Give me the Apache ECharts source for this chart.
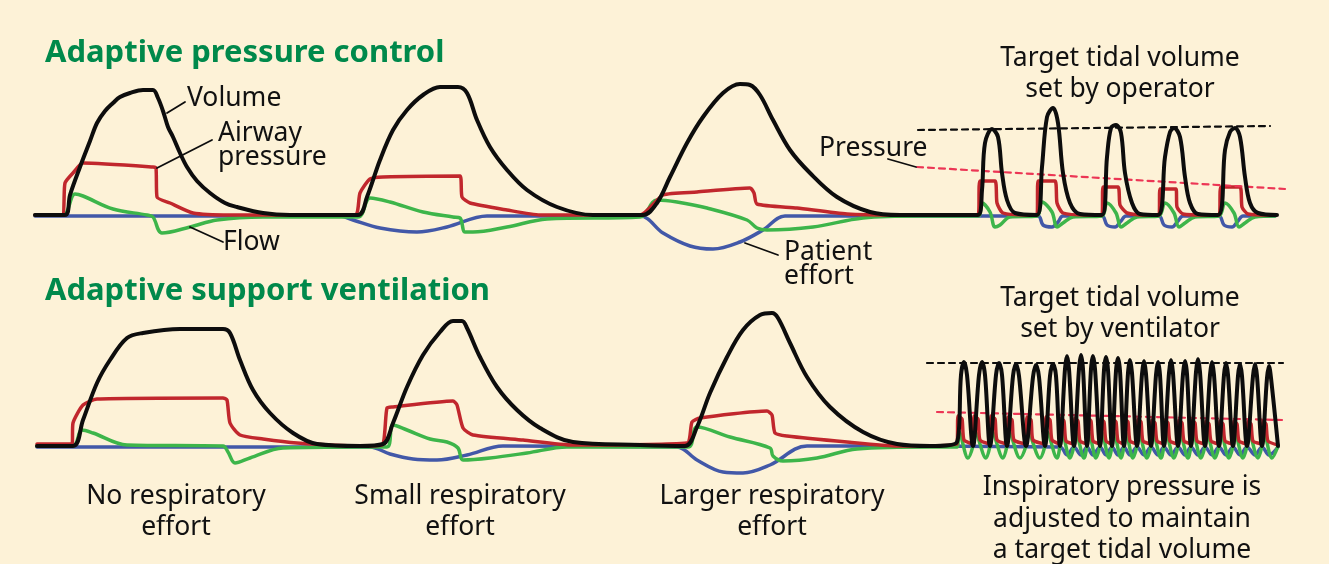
<!DOCTYPE html>
<html>
<head>
<meta charset="utf-8">
<script src="https://cdn.jsdelivr.net/npm/echarts@6/dist/echarts.min.js"></script>
<style>
  html, body { margin: 0; padding: 0; background: #fdf2d7; }
  #chart { width: 1329px; height: 564px; }
</style>
</head>
<body>
<div id="chart"></div>
<script>
  // each point is [time, amplitude], amplitude 0 = the panel's baseline
  // --- top panel: adaptive pressure control ---
  var apcVolume = [[35,0],[65,0],[70,20],[80,48],[90,74],[97,92],[105,104],[113,112],[120,118],[130,122],[143,125],[153,125],[158,117],[163,104],[168,88],[173,78],[180,62],[187,48],[197,34],[210,22],[225,12],[237,8],[263,2],[290,0],[358,0],[367,18],[380,55],[393,85],[407,105],[423,120],[440,128],[458,128],[467,122],[477,95],[490,68],[507,45],[527,25],[557,8],[593,0],[643,0],[657,12],[670,38],[687,72],[703,98],[723,122],[740,131],[750,130],[760,120],[773,95],[790,65],[810,42],[837,18],[870,3],[900,0],[978,0],[982,25],[985,72],[992,86],[998,78],[1002,42],[1007,15],[1015,2],[1037,0],[1042,48],[1047,98],[1053,107],[1058,92],[1063,42],[1070,12],[1080,1],[1102,0],[1107,58],[1111,87],[1116,90],[1121,82],[1125,42],[1132,12],[1140,1],[1158,0],[1165,58],[1170,83],[1174,87],[1180,78],[1185,38],[1190,12],[1198,1],[1218,0],[1225,65],[1230,83],[1235,87],[1240,78],[1245,38],[1250,12],[1258,2],[1277,0]];
  var apcPressure = [[35,0],[62,0],[65,32],[73,42],[83,52],[153,48],[156,47],[157,18],[170,12],[193,2],[230,0],[355,0],[360,22],[370,36],[383,38],[460,39],[462,18],[470,12],[507,5],[540,0],[640,0],[663,20],[697,23],[750,27],[754,22],[757,11],[797,7],[847,1],[897,0],[978,0],[980,34],[995,34],[997,12],[1003,2],[1027,0],[1037,0],[1038,34],[1055,34],[1057,12],[1063,2],[1087,0],[1102,0],[1103,28],[1118,28],[1120,10],[1127,2],[1147,0],[1159,0],[1160,26],[1176,26],[1177,8],[1183,1],[1207,0],[1219,0],[1221,28],[1240,28],[1242,8],[1248,1],[1275,0]];
  var apcFlow = [[35,0],[63,0],[75,21],[83,19],[113,6],[147,0],[153,-2],[162,-18],[190,-12],[217,-5],[263,-2],[358,-2],[370,17],[390,13],[423,3],[453,-2],[460,-3],[465,-17],[473,-17],[507,-12],[547,-4],[640,-2],[657,15],[677,13],[707,7],[747,-5],[757,-13],[767,-15],[813,-12],[863,-3],[920,-1],[978,-1],[982,12],[990,3],[995,-12],[1000,-10],[1010,-2],[1037,-1],[1042,13],[1052,3],[1057,-12],[1063,-8],[1073,-2],[1102,-1],[1107,12],[1116,2],[1121,-12],[1127,-8],[1137,-2],[1159,-1],[1165,12],[1174,2],[1179,-12],[1185,-8],[1195,-2],[1219,-1],[1225,12],[1234,2],[1239,-12],[1245,-8],[1255,-2],[1275,-1]];
  var apcEffort = [[35,-1],[340,-1],[353,-5],[380,-13],[417,-17],[447,-12],[487,-1],[640,-1],[663,-18],[690,-31],[713,-34],[740,-27],[763,-15],[785,-1],[1038,-1],[1043,-10],[1052,-12],[1058,-7],[1063,-1],[1102,-1],[1107,-10],[1115,-12],[1121,-6],[1126,-1],[1159,-1],[1164,-10],[1172,-12],[1178,-6],[1183,-1],[1219,-1],[1224,-10],[1232,-12],[1238,-6],[1243,-1],[1275,-1]];
  var apcVolumeTarget = [[918,85],[1270,89]];
  var apcPressureTarget = [[917,48],[1285,26]];

  // --- bottom panel: adaptive support ventilation ---
  var asvVolume = [[37,0],[73,0],[83,26],[97,63],[110,86],[127,108],[143,113],[180,117],[223,117],[230,113],[240,86],[253,56],[270,33],[293,13],[317,2],[360,0],[383,2],[393,23],[407,59],[423,91],[440,114],[453,125],[462,125],[467,118],[480,89],[497,59],[517,36],[540,18],[573,4],[640,1],[685,0],[697,19],[710,53],[727,89],[743,116],[760,131],[772,133],[778,128],[790,103],[807,69],[830,39],[863,14],[897,2],[930,0],[957,4],
    [961,71],[964,84],[967,71],[973,0],[979,71],[982,84],[985,71],[990,0],[996,71],[999,83],[1002,71],[1007,0],[1013,70],[1016,82],[1019,70],[1026,0],[1033,69],[1036,81],[1039,69],[1045,0],[1050,70],[1053,82],[1056,70],[1060,0],
    [1065,77],[1067,90],[1069,77],[1074,0],[1079,77],[1081,91],[1083,77],[1087,0],[1091,77],[1093,90],[1095,77],[1100,0],[1104,76],[1106,89],[1108,76],[1112,0],[1116,75],[1118,88],[1120,75],[1124,0],[1128,73],[1130,86],[1132,73],[1137,0],[1142,72],[1144,85],[1146,72],[1151,0],[1156,71],[1158,84],[1160,71],[1164,0],[1169,73],[1171,86],[1173,73],[1178,0],[1183,72],[1185,85],[1187,72],[1191,0],[1196,74],[1198,87],[1200,74],[1205,0],[1210,71],[1212,84],[1214,71],[1219,0],[1224,71],[1226,83],[1228,71],[1233,0],[1238,70],[1240,82],[1242,70],[1247,0],[1253,70],[1255,82],[1257,70],[1262,0],[1267,68],[1269,80],[1271,68],[1278,0]];
  var asvPressure = [[37,2],[72,2],[73,23],[83,41],[97,47],[223,48],[227,46],[230,23],[240,11],[263,7],[297,3],[360,0],[382,1],[387,38],[393,39],[453,45],[457,41],[463,18],[473,11],[523,6],[573,1],[687,3],[692,24],[700,28],[767,35],[772,31],[775,13],[787,10],[847,4],[897,0],[957,2],
    [958,30],[962,27],[964,6],[973,2],[974,30],[978,27],[980,6],[990,2],[991,30],[995,27],[997,6],[1007,2],[1008,29],[1012,26],[1014,6],[1026,2],[1027,29],[1031,26],[1033,6],[1045,2],[1046,29],[1050,26],[1052,6],[1060,2],
    [1061,28],[1064,25],[1066,5],[1074,2],[1075,28],[1078,25],[1080,5],[1087,2],[1088,28],[1091,25],[1093,5],[1100,2],[1101,27],[1104,24],[1106,5],[1112,2],[1113,27],[1116,24],[1118,5],[1124,2],[1125,27],[1128,24],[1130,5],[1137,2],[1138,27],[1141,24],[1143,5],[1151,2],[1152,26],[1155,23],[1157,5],[1164,2],[1165,26],[1168,23],[1170,5],[1178,2],[1179,26],[1182,23],[1184,5],[1191,2],[1192,26],[1195,23],[1197,5],[1205,2],[1206,25],[1209,22],[1211,5],[1219,2],[1220,25],[1223,22],[1225,5],[1233,2],[1234,25],[1237,22],[1239,5],[1247,2],[1248,25],[1251,22],[1253,5],[1262,2],[1263,25],[1266,22],[1268,5],[1278,1]];
  var asvFlow = [[37,0],[73,0],[82,16],[93,13],[127,1],[223,0],[228,-6],[235,-17],[250,-12],[283,-2],[360,-1],[387,-1],[393,21],[407,16],[430,7],[447,4],[458,-2],[463,-14],[490,-12],[527,-7],[567,-1],[688,-1],[697,19],[730,9],[770,-2],[773,-10],[783,-15],[817,-12],[857,-3],[930,-1],[957,-1],
    [959,14],[968,-12],[973,0],[975,14],[986,-12],[990,0],[992,14],[1003,-12],[1007,0],[1009,14],[1020,-12],[1026,0],[1028,14],[1040,-12],[1045,0],[1047,14],[1057,-12],[1060,0],
    [1062,13],[1070,-12],[1074,0],[1076,13],[1084,-12],[1087,0],[1089,13],[1096,-12],[1100,0],[1102,13],[1109,-12],[1112,0],[1114,13],[1121,-12],[1124,0],[1126,13],[1133,-12],[1137,0],[1139,13],[1147,-12],[1151,0],[1153,13],[1161,-12],[1164,0],[1166,13],[1174,-12],[1178,0],[1180,13],[1188,-12],[1191,0],[1193,13],[1201,-12],[1205,0],[1207,13],[1215,-12],[1219,0],[1221,13],[1229,-12],[1233,0],[1235,13],[1243,-12],[1247,0],[1249,13],[1258,-12],[1262,0],[1264,13],[1272,-12],[1278,0]];
  var asvEffort = [[37,-1],[370,-1],[390,-8],[413,-13],[437,-14],[467,-9],[503,0],[677,-1],[697,-14],[723,-26],[743,-27],[770,-19],[807,0],[1060,-1],
    [1067,-9],[1074,-1],[1081,-9],[1087,-1],[1093,-9],[1100,-1],[1106,-9],[1112,-1],[1118,-9],[1124,-1],[1130,-9],[1137,-1],[1144,-9],[1151,-1],[1158,-9],[1164,-1],[1171,-9],[1178,-1],[1185,-9],[1191,-1],[1198,-9],[1205,-1],[1212,-9],[1219,-1],[1226,-9],[1233,-1],[1240,-9],[1247,-1],[1255,-9],[1262,-1],[1269,-9],[1278,-1]];
  var asvVolumeTarget = [[927,83],[1283,83]];
  var asvPressureTarget = [[937,34],[1282,26]];

  // leader lines from the labels to the curves (top panel)
  var leaderVolume = [[167,102],[185,113]];
  var leaderPressure = [[157,47],[212,75]];
  var leaderFlow = [[190,-12],[223,-27]];
  var leaderEffort = [[745,-28],[778,-40]];
  var leaderTarget = [[888,56],[916,48]];

  var FONT = '"Noto Sans", sans-serif';
  var BLACK = "#0d0d0d", RED = "#c1272d", GREEN = "#3db54a", BLUE = "#4258a8";

  function wave(grid, data, color, width, dash, smooth) {
    return {
      type: "line",
      xAxisIndex: grid,
      yAxisIndex: grid,
      data: data,
      symbol: "none",
      smooth: smooth === undefined ? 0.35 : smooth,
      silent: true,
      clip: false,
      lineStyle: { color: color, width: width, type: dash ? [6, 5] : "solid", cap: "round", join: "round" }
    };
  }

  function label(x, y, text, opt) {
    opt = opt || {};
    return {
      type: "text",
      x: x,
      y: y,
      silent: true,
      style: {
        text: text,
        fontFamily: FONT,
        fontSize: opt.size || 26.5,
        fontWeight: opt.weight || "normal",
        fill: opt.color || "#111111",
        align: opt.align || "left",
        verticalAlign: "middle",
        lineHeight: opt.lh || 31
      }
    };
  }

  var chart = echarts.init(document.getElementById("chart"));

  var axisX = { type: "value", min: 0, max: 1329, show: false };
  var axisY = { type: "value", min: -50, max: 150, show: false };

  chart.setOption({
    animation: false,
    backgroundColor: "#fdf2d7",
    grid: [
      { left: 0, right: 0, top: 65, height: 200 },
      { left: 0, right: 0, top: 296, height: 200 }
    ],
    xAxis: [Object.assign({ gridIndex: 0 }, axisX), Object.assign({ gridIndex: 1 }, axisX)],
    yAxis: [Object.assign({ gridIndex: 0 }, axisY), Object.assign({ gridIndex: 1 }, axisY)],
    series: [
      wave(0, apcEffort, BLUE, 3.5),
      wave(0, apcFlow, GREEN, 3.5),
      wave(0, apcPressure, RED, 3.5, false, 0.2),
      wave(0, apcVolumeTarget, BLACK, 2.2, true, false),
      wave(0, apcPressureTarget, "#ec3655", 2.2, true, false),
      wave(0, apcVolume, BLACK, 4),
      wave(0, leaderVolume, BLACK, 1.8, false, false),
      wave(0, leaderPressure, BLACK, 1.8, false, false),
      wave(0, leaderFlow, BLACK, 1.8, false, false),
      wave(0, leaderEffort, BLACK, 1.8, false, false),
      wave(0, leaderTarget, BLACK, 1.8, false, false),
      wave(1, asvEffort, BLUE, 3.5),
      wave(1, asvFlow, GREEN, 3.5),
      wave(1, asvPressure, RED, 3.5, false, 0.2),
      wave(1, asvVolumeTarget, BLACK, 2.2, true, false),
      wave(1, asvPressureTarget, "#ec3655", 2.2, true, false),
      wave(1, asvVolume, BLACK, 4)
    ],
    graphic: [
      label(45, 53, "Adaptive pressure control", { size: 31, weight: "bold", color: "#00894b" }),
      label(45, 291, "Adaptive support ventilation", { size: 31, weight: "bold", color: "#00894b" }),
      label(187, 98, "Volume"),
      label(218, 145, "Airway\npressure", { lh: 24 }),
      label(223, 242, "Flow"),
      label(784, 264, "Patient\neffort", { lh: 24 }),
      label(819, 148, "Pressure"),
      label(1120, 74, "Target tidal volume\nset by operator", { align: "center" }),
      label(1120, 314, "Target tidal volume\nset by ventilator", { align: "center" }),
      label(176, 512, "No respiratory\neffort", { align: "center" }),
      label(460, 512, "Small respiratory\neffort", { align: "center" }),
      label(772, 512, "Larger respiratory\neffort", { align: "center" }),
      label(1122, 519, "Inspiratory pressure is\nadjusted to maintain\na target tidal volume", { align: "center", lh: 31.5 })
    ]
  });
</script>
</body>
</html>
